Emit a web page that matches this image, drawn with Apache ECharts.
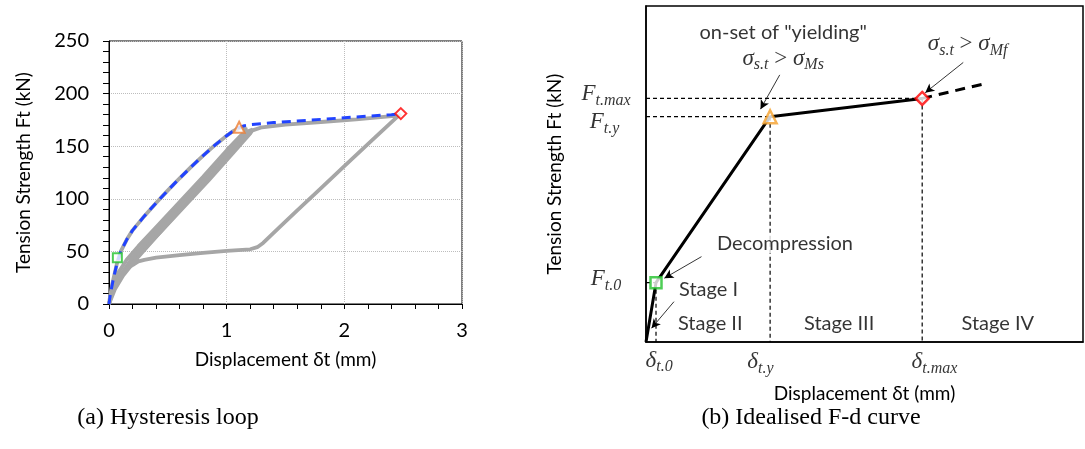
<!DOCTYPE html>
<html><head><meta charset="utf-8">
<script src="https://cdn.jsdelivr.net/npm/echarts@6/dist/echarts.min.js"></script>
<style>html,body{margin:0;padding:0;background:#fff}#c{width:1085px;height:449px}</style>
</head><body><div id="c"></div>
<script>
// ---------- (a) Hysteresis loop data ----------
const envelope = [[0,0],[0.01,8],[0.03,20],[0.05,30],[0.071,40],[0.1,50],[0.15,61],[0.2,70],[0.3,83.5],[0.4,96],[0.5,108],[0.6,119.5],[0.7,130.5],[0.8,141],[0.9,151],[1.0,160],[1.05,164],[1.1,167.5],[1.15,169.5],[1.2,170.5],[1.4,172.5],[1.6,174],[1.8,175.5],[2.0,177],[2.2,178.5],[2.4,180],[2.48,181]];
const loop1 = [[0,0],[0.01,8],[0.03,20],[0.05,30],[0.071,40],[0.1,50],[0.15,61],[0.2,70],[0.3,83.5],[0.4,96],[0.5,108],[0.6,119.5],[0.7,130.5],[0.8,141],[0.9,151],[1.0,160],[1.05,164],[1.12,168],[1.17,166],[1.12,160],[1.0,146],[0.8,121],[0.6,97],[0.4,73],[0.25,55],[0.15,42],[0.08,30],[0.03,15],[0,0]];
const loop2 = [[0,0],[0.04,14],[0.1,28],[0.2,44],[0.35,63],[0.5,81],[0.7,106],[0.9,131],[1.1,155],[1.18,164],[1.22,166],[1.2,162],[1.05,143],[0.85,118],[0.65,94],[0.45,70],[0.3,52],[0.18,38],[0.1,28],[0.04,14],[0,0]];
const loop3 = [[0,0],[0.05,14],[0.12,27],[0.22,41],[0.4,64],[0.6,89],[0.8,114],[1.0,139],[1.15,158],[1.22,165],[1.3,168],[1.5,170.5],[1.8,173],[2.1,175.5],[2.45,179],[2.48,180.5],[2.44,177],[2.2,152],[2.0,131],[1.8,110],[1.6,89],[1.45,73],[1.37,64.5],[1.31,58],[1.26,54],[1.2,52],[1.0,50.5],[0.8,48.5],[0.6,46.5],[0.4,44],[0.3,42],[0.25,40.5],[0.2,37],[0.14,32],[0.08,24],[0.03,12],[0,0]];
const pointDecompression = [0.071, 44];
const pointYield = [1.106, 168];
const pointMax = [2.48, 181];

// ---------- (b) Idealised F-d curve data (arbitrary units 0-100) ----------
const idealCurve = [[0,0],[2.29,17.65],[28.4,67.05],[63.2,72.5]];
const idealExtension = [[63.2,72.5],[77.9,77.0]];
const keyX = [2.29, 28.4, 63.2];
const keyY = [17.65, 67.05, 72.5];
// key labels placed beside the axes: [x, y, text]
const keyLabels = [
  [-9.15, 73.0, '{m|F}{s|t.max}'],
  [-9.5, 64.6, '{m|F}{s|t.y}'],
  [-9.15, 17.9, '{m|F}{s|t.0}'],
  [3.0, -6.3, '{m|δ}{s|t.0}'],
  [26.2, -6.8, '{m|δ}{s|t.y}'],
  [66.0, -6.8, '{m|δ}{s|t.max}']
];
const annotTexts = [
  [31.4, 92.2, 'on-set of "yielding"'],
  [31.8, 29.4, 'Decompression'],
  [14.3, 15.5, 'Stage I'],
  [14.7, 5.6, 'Stage II'],
  [44.2, 5.6, 'Stage III'],
  [80.5, 5.6, 'Stage IV']
];
const annotMath = [
  [31.4, 83.6, '{m|σ}{s|s.t}{o| > }{m|σ}{s|Ms}'],
  [73.6, 87.9, '{m|σ}{s|s.t}{o| > }{m|σ}{s|Mf}']
];
const arrows = [
  [[30.6,79.5],[26.2,69.3]],
  [[72.6,83.2],[63.9,74.2]],
  [[12.7,25.4],[4.2,19.0]],
  [[6.4,12.0],[1.26,4.1]]
];
const captions = ['(a) Hysteresis loop', '(b) Idealised F-d curve'];

const SANS = 'Lato';
const SERIF = 'Liberation Serif';
const mathRich = {
  m: {fontFamily: SERIF, fontStyle: 'italic', fontSize: 23, color: '#000', verticalAlign: 'top', lineHeight: 28},
  s: {fontFamily: SERIF, fontStyle: 'italic', fontSize: 16, color: '#000', verticalAlign: 'top', lineHeight: 28, padding: [10, 0, 0, 0]},
  o: {fontFamily: SERIF, fontSize: 23, color: '#000', verticalAlign: 'top', lineHeight: 28}
};

const chart = echarts.init(document.getElementById('c'), null, {renderer: 'canvas'});
const dashGuide = {color: '#000', width: 1.2, type: [4, 3]};
const guides = [
  [[0, keyY[2]], [keyX[2], keyY[2]]],
  [[0, keyY[1]], [keyX[1], keyY[1]]],
  [[0, keyY[0]], [keyX[0], keyY[0]]],
  [[keyX[0], keyY[0]], [keyX[0], 0]],
  [[keyX[1], keyY[1]], [keyX[1], 0]],
  [[keyX[2], keyY[2]], [keyX[2], 0]]
];
const grayStyle = {color: '#a6a6a6', width: 3.8};
function grayLoop(d){ return {type:'line', xAxisIndex:0, yAxisIndex:0, data:d, showSymbol:false, lineStyle:grayStyle, z:2, silent:true}; }

const option = {
  animation: false,
  grid: [
    {left: 109, top: 41, width: 353, height: 263, show: true, borderColor: '#000', borderWidth: 1, backgroundColor: 'transparent'},
    {left: 646, top: 6, width: 437, height: 336, show: true, borderColor: '#000', borderWidth: 1.5, backgroundColor: 'transparent'}
  ],
  xAxis: [
    {gridIndex: 0, type: 'value', min: 0, max: 3, interval: 1,
     name: 'Displacement δt (mm)', nameLocation: 'middle', nameGap: 46,
     nameTextStyle: {fontFamily: SANS, fontSize: 19, color: '#000'},
     axisLine: {lineStyle: {color: '#000', width: 1}},
     axisTick: {show: true, length: 5, lineStyle: {color: '#000'}},
     minorTick: {show: true, splitNumber: 5, length: 5, lineStyle: {color: '#000'}},
     splitLine: {show: true, lineStyle: {color: '#bdbdbd', type: 'dotted', width: 1}},
     axisLabel: {fontFamily: SANS, fontSize: 20, color: '#000', margin: 17}},
    {gridIndex: 1, type: 'value', min: 0, max: 100,
     name: 'Displacement δt (mm)', nameLocation: 'middle', nameGap: 42,
     nameTextStyle: {fontFamily: SANS, fontSize: 19, color: '#000'},
     axisLine: {lineStyle: {color: '#000', width: 1.5}},
     axisTick: {show: false}, splitLine: {show: false}, axisLabel: {show: false}}
  ],
  yAxis: [
    {gridIndex: 0, type: 'value', min: 0, max: 250, interval: 50,
     name: 'Tension Strength Ft (kN)', nameLocation: 'middle', nameGap: 76,
     nameTextStyle: {fontFamily: SANS, fontSize: 19, color: '#000'},
     axisLine: {lineStyle: {color: '#000', width: 1}},
     axisTick: {show: true, length: 6, lineStyle: {color: '#000'}},
     minorTick: {show: true, splitNumber: 5, length: 6, lineStyle: {color: '#000'}},
     splitLine: {show: true, lineStyle: {color: '#bdbdbd', type: 'dotted', width: 1}},
     axisLabel: {fontFamily: SANS, fontSize: 20, color: '#000', margin: 20}},
    {gridIndex: 1, type: 'value', min: 0, max: 100,
     name: 'Tension Strength Ft (kN)', nameLocation: 'middle', nameGap: 82,
     nameTextStyle: {fontFamily: SANS, fontSize: 19, color: '#000'},
     axisLine: {lineStyle: {color: '#000', width: 1.5}},
     axisTick: {show: false}, splitLine: {show: false}, axisLabel: {show: false}}
  ],
  series: [
    grayLoop(loop1), grayLoop(loop2), grayLoop(loop3),
    {type: 'line', xAxisIndex: 0, yAxisIndex: 0, data: envelope, showSymbol: false, z: 3, silent: true,
     lineStyle: {color: '#2143ff', width: 3, type: [9, 6]}},
    {type: 'scatter', xAxisIndex: 0, yAxisIndex: 0, z: 5, silent: true, data: [pointDecompression], symbol: 'rect', symbolSize: 9,
     itemStyle: {color: '#fff', borderColor: '#22c22c', borderWidth: 2}},
    {type: 'scatter', xAxisIndex: 0, yAxisIndex: 0, z: 5, silent: true, data: [pointYield], symbol: 'triangle', symbolSize: 11,
     itemStyle: {color: '#fff', borderColor: '#ed7d31', borderWidth: 2}},
    {type: 'scatter', xAxisIndex: 0, yAxisIndex: 0, z: 5, silent: true, data: [pointMax], symbol: 'diamond', symbolSize: 11,
     itemStyle: {color: '#fff', borderColor: '#ff0000', borderWidth: 2}},
    // (b)
    ...guides.map(g => ({type: 'line', xAxisIndex: 1, yAxisIndex: 1, data: g, showSymbol: false, silent: true, z: 2, lineStyle: dashGuide})),
    {type: 'line', xAxisIndex: 1, yAxisIndex: 1, data: idealCurve, showSymbol: false, z: 3, silent: true,
     lineStyle: {color: '#000', width: 3}},
    {type: 'line', xAxisIndex: 1, yAxisIndex: 1, data: idealExtension, showSymbol: false, z: 3, silent: true,
     lineStyle: {color: '#000', width: 3, type: [10, 7]}},
    {type: 'scatter', xAxisIndex: 1, yAxisIndex: 1, z: 5, silent: true, data: [idealCurve[1]], symbol: 'rect', symbolSize: 11,
     itemStyle: {color: '#fff', borderColor: '#22c22c', borderWidth: 2.5}},
    {type: 'scatter', xAxisIndex: 1, yAxisIndex: 1, z: 5, silent: true, data: [idealCurve[2]], symbol: 'triangle', symbolSize: 13,
     itemStyle: {color: '#fff', borderColor: '#f5a02a', borderWidth: 2.5}},
    {type: 'scatter', xAxisIndex: 1, yAxisIndex: 1, z: 5, silent: true, data: [idealCurve[3]], symbol: 'diamond', symbolSize: 13,
     itemStyle: {color: '#fff', borderColor: '#ff0000', borderWidth: 2.5}},
    {type: 'scatter', xAxisIndex: 1, yAxisIndex: 1, z: 6, silent: true, symbolSize: 0,
     data: annotTexts.map(a => ({value: [a[0], a[1]], label: {formatter: a[2]}})),
     label: {show: true, position: 'inside', fontFamily: SANS, fontSize: 20, color: '#000', backgroundColor: '#fff', padding: [0, 2]},
     markLine: {silent: true, symbol: ['none', 'arrow'], symbolSize: [7, 9], label: {show: false},
       lineStyle: {color: '#000', width: 0.8, type: 'solid'},
       data: arrows.map(a => [{coord: a[0]}, {coord: a[1]}])}},
    {type: 'scatter', xAxisIndex: 1, yAxisIndex: 1, z: 6, silent: true, symbolSize: 0, clip: false,
     data: annotMath.concat(keyLabels).map(a => ({value: [a[0], a[1]], label: {formatter: a[2]}})),
     label: {show: true, position: 'inside', rich: mathRich}}
  ],
  graphic: [
    {type: 'text', x: 168, y: 418, style: {text: captions[0], font: '24px "Liberation Serif"', fill: '#000', textAlign: 'center', textVerticalAlign: 'middle'}},
    {type: 'text', x: 811, y: 418, style: {text: captions[1], font: '24px "Liberation Serif"', fill: '#000', textAlign: 'center', textVerticalAlign: 'middle'}}
  ]
};
chart.setOption(option);
</script></body></html>
